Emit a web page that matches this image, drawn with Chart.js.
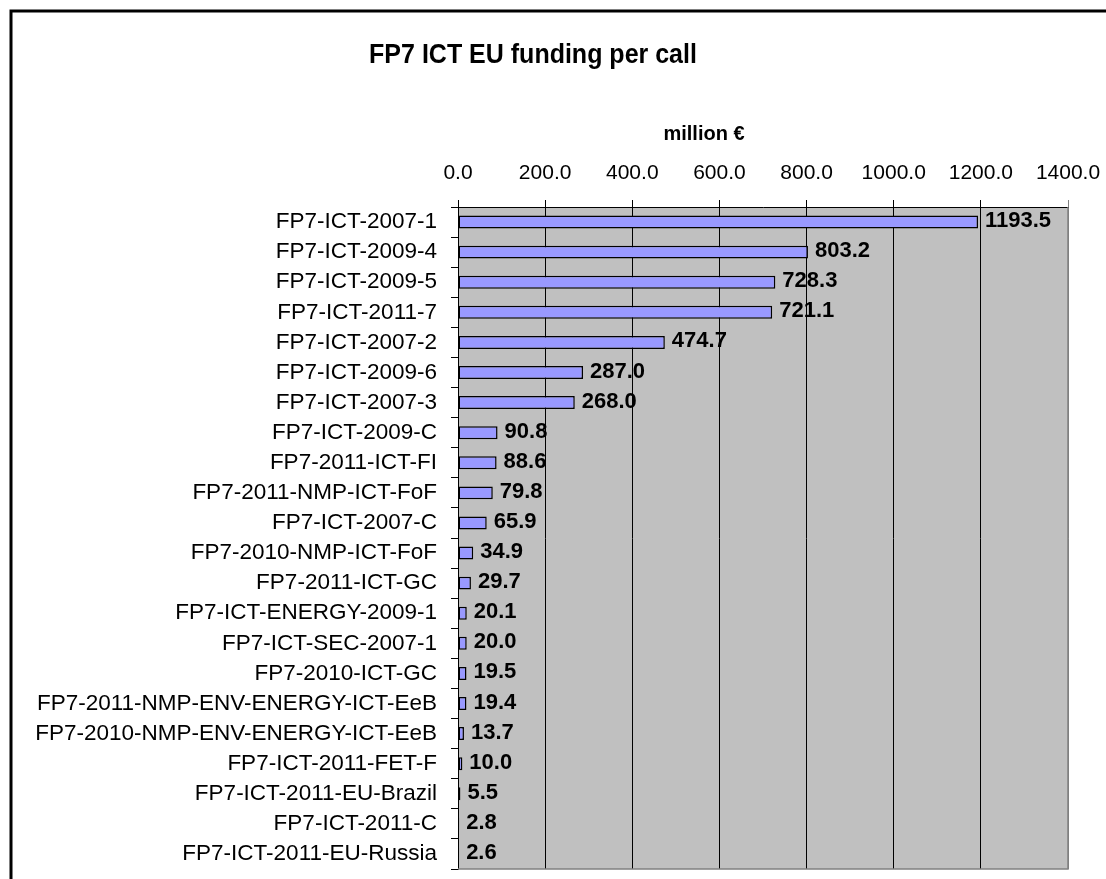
<!DOCTYPE html>
<html>
<head>
<meta charset="utf-8">
<script src="https://cdn.jsdelivr.net/npm/chart.js@4.4.1/dist/chart.umd.min.js"></script>
<style>
  html, body { margin: 0; padding: 0; background: #fff; }
  #wrap { width: 1106px; height: 879px; }
</style>
</head>
<body>
<div id="wrap"><canvas id="chart" width="1106" height="879"></canvas></div>
<script>
// ====== data ======
const categories = [
    "FP7-ICT-2007-1",
    "FP7-ICT-2009-4",
    "FP7-ICT-2009-5",
    "FP7-ICT-2011-7",
    "FP7-ICT-2007-2",
    "FP7-ICT-2009-6",
    "FP7-ICT-2007-3",
    "FP7-ICT-2009-C",
    "FP7-2011-ICT-FI",
    "FP7-2011-NMP-ICT-FoF",
    "FP7-ICT-2007-C",
    "FP7-2010-NMP-ICT-FoF",
    "FP7-2011-ICT-GC",
    "FP7-ICT-ENERGY-2009-1",
    "FP7-ICT-SEC-2007-1",
    "FP7-2010-ICT-GC",
    "FP7-2011-NMP-ENV-ENERGY-ICT-EeB",
    "FP7-2010-NMP-ENV-ENERGY-ICT-EeB",
    "FP7-ICT-2011-FET-F",
    "FP7-ICT-2011-EU-Brazil",
    "FP7-ICT-2011-C",
    "FP7-ICT-2011-EU-Russia"
];
const funding = [1193.5, 803.2, 728.3, 721.1, 474.7, 287.0, 268.0, 90.8, 88.6, 79.8, 65.9,
    34.9, 29.7, 20.1, 20.0, 19.5, 19.4, 13.7, 10.0, 5.5, 2.8, 2.6];
const xMin = 0;
const xMax = 1400;
const xStep = 200;

const chartTitle = 'FP7 ICT EU funding per call';
const axisTitle = 'million €';

const FONT = 'Arial, "Liberation Sans", sans-serif';

// frame, plot background, titles
const decorPlugin = {
    id: 'decorPlugin',
    beforeDraw(chart) {
        const a = chart.chartArea;
        const ctx = chart.ctx;
        ctx.save();
        ctx.fillStyle = '#C0C0C0';
        ctx.fillRect(a.left, a.top, a.right - a.left, a.bottom - a.top);

        // outer frame (runs off the right and bottom of the page)
        ctx.strokeStyle = '#000';
        ctx.lineWidth = 3;
        ctx.beginPath();
        ctx.moveTo(11, 900);
        ctx.lineTo(11, 11);
        ctx.lineTo(1120, 11);
        ctx.stroke();

        ctx.fillStyle = '#000';
        ctx.textAlign = 'center';
        ctx.textBaseline = 'alphabetic';
        // title looks slightly taller than wide in the picture
        ctx.save();
        ctx.translate(533, 63);
        ctx.scale(1, 1.12);
        ctx.font = `bold 25px ${FONT}`;
        ctx.fillText(chartTitle, 0, 0);
        ctx.restore();
        ctx.font = `bold 20px ${FONT}`;
        ctx.fillText(axisTitle, 704, 140);
        ctx.restore();
    },
    afterDraw(chart) {
        const a = chart.chartArea;
        const ctx = chart.ctx;
        ctx.save();
        ctx.strokeStyle = '#808080';
        ctx.lineWidth = 1.5;
        ctx.beginPath();
        ctx.moveTo(a.left, a.bottom);
        ctx.lineTo(a.right, a.bottom);
        ctx.lineTo(a.right, a.top);
        ctx.stroke();
        ctx.restore();
    }
};

// bold value at the end of each bar
const valueLabelPlugin = {
    id: 'valueLabelPlugin',
    afterDatasetsDraw(chart) {
        const ctx = chart.ctx;
        const meta = chart.getDatasetMeta(0);
        ctx.save();
        ctx.font = `bold 22px ${FONT}`;
        ctx.fillStyle = '#000';
        ctx.textAlign = 'left';
        ctx.textBaseline = 'middle';
        meta.data.forEach((bar, i) => {
            ctx.fillText(funding[i].toFixed(1), bar.x + 7, bar.y - 1);
        });
        ctx.restore();
    }
};

new Chart(document.getElementById('chart'), {
    type: 'bar',
    data: {
        labels: categories,
        datasets: [{
            data: funding,
            backgroundColor: '#9999FF',
            borderColor: '#000',
            borderWidth: 1.5,
            borderSkipped: false,
            barPercentage: 0.43,
            categoryPercentage: 1
        }]
    },
    options: {
        indexAxis: 'y',
        responsive: false,
        animation: false,
        layout: {
            padding: { top: 100, left: 0, right: 38, bottom: 10 }
        },
        plugins: {
            legend: { display: false },
            title: { display: false },
            tooltip: { enabled: false }
        },
        scales: {
            x: {
                position: 'top',
                min: xMin,
                max: xMax,
                ticks: {
                    stepSize: xStep,
                    color: '#000',
                    font: { size: 21, family: FONT },
                    padding: 14,
                    maxRotation: 0,
                    callback: (v) => Number(v).toFixed(1)
                },
                grid: {
                    color: (c) => (c.tick && c.tick.value === xMax) ? '#808080' : '#000',
                    lineWidth: 1,
                    tickLength: 7
                },
                border: { display: true, color: '#000', width: 1 },
                afterFit: (scale) => {
                    scale.height = 107;
                    scale.paddingLeft = 0;
                    scale.paddingRight = 0;
                }
            },
            y: {
                ticks: {
                    color: '#000',
                    font: { size: 22.5, family: FONT },
                    padding: 14,
                    autoSkip: false
                },
                grid: {
                    drawOnChartArea: false,
                    color: '#000',
                    tickLength: 7
                },
                border: { display: true, color: '#000', width: 1 },
                afterFit: (scale) => {
                    scale.width = 458;
                    scale.paddingTop = 0;
                    scale.paddingBottom = 0;
                }
            }
        }
    },
    plugins: [decorPlugin, valueLabelPlugin]
});
</script>
</body>
</html>
